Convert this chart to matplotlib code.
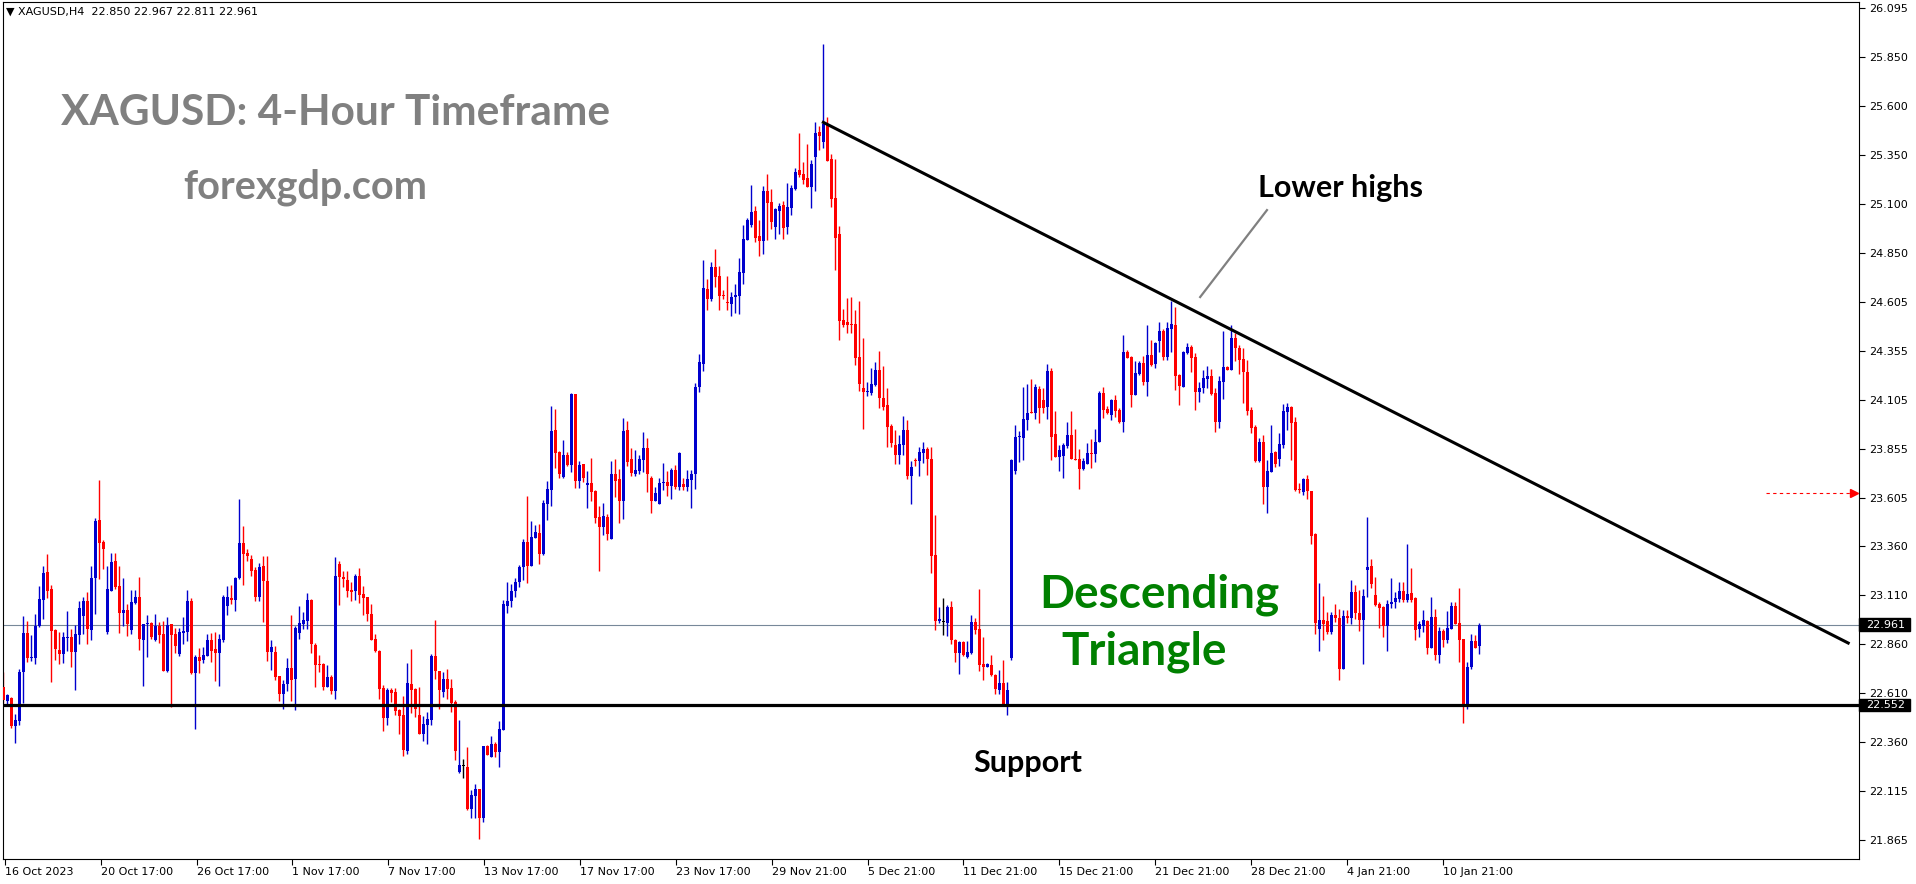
import matplotlib
matplotlib.use("Agg")
from matplotlib import pyplot as plt
from matplotlib import transforms
from matplotlib.patches import Rectangle

# XAGUSD H4 candles (16 Oct 2023 - 12 Jan 2024)
opens = [
    22.644, 22.573, 22.588, 22.444, 22.472, 22.719, 22.917, 22.790, 22.792, 22.955,
    23.087, 23.226, 23.141, 22.933, 22.831, 22.812, 22.894, 22.897, 22.822, 22.909,
    23.005, 23.080, 22.934, 23.197, 23.492, 23.382, 22.924, 23.133, 23.283, 23.158,
    23.019, 23.034, 22.934, 23.070, 23.100, 22.882, 22.965, 22.968, 22.882, 22.956,
    22.914, 22.726, 22.963, 22.914, 22.811, 22.919, 22.922, 23.080, 22.714, 22.795,
    22.780, 22.802, 22.882, 22.836, 22.817, 22.882, 23.056, 23.095, 23.087, 23.199,
    23.375, 23.324, 23.294, 23.238, 23.102, 23.258, 23.182, 22.822, 22.821, 22.699,
    22.607, 22.658, 22.739, 22.683, 22.919, 22.963, 22.978, 23.085, 22.856, 22.760,
    22.760, 22.643, 22.694, 22.622, 23.268, 23.202, 23.187, 23.136, 23.131, 23.207,
    23.116, 23.100, 23.014, 22.887, 22.826, 22.638, 22.485, 22.628, 22.617, 22.526,
    22.500, 22.317, 22.658, 22.633, 22.500, 22.404, 22.450, 22.475, 22.800, 22.724,
    22.617, 22.683, 22.638, 22.567, 22.211, 22.244, 22.236, 22.022, 22.089, 22.124,
    21.977, 22.343, 22.287, 22.353, 22.312, 22.424, 23.055, 23.080, 23.130, 23.175,
    23.255, 23.380, 23.258, 23.401, 23.426, 23.319, 23.573, 23.645, 23.950, 23.838,
    23.711, 23.823, 23.772, 24.133, 23.690, 23.777, 23.670, 23.680, 23.640, 23.507,
    23.456, 23.507, 23.395, 23.726, 23.701, 23.589, 23.950, 23.802, 23.726, 23.741,
    23.797, 23.858, 23.706, 23.589, 23.573, 23.680, 23.685, 23.665, 23.746, 23.660,
    23.675, 23.660, 23.695, 23.726, 24.168, 24.285, 24.667, 24.616, 24.779, 24.733,
    24.636, 24.601, 24.590, 24.626, 24.631, 24.747, 24.915, 24.991, 25.063, 24.936,
    24.910, 25.164, 25.108, 24.981, 25.063, 25.093, 24.981, 25.078, 25.175, 25.271,
    25.251, 25.230, 25.185, 25.337, 25.464, 25.413, 25.505, 25.327, 25.129, 24.946,
    24.508, 24.498, 24.488, 24.488, 24.320, 24.163, 24.144, 24.137, 24.178, 24.254,
    24.112, 24.076, 23.969, 23.873, 23.822, 23.873, 23.949, 23.715, 23.796, 23.791,
    23.832, 23.852, 23.801, 23.313, 22.978, 22.976, 22.968, 23.049, 22.881, 22.815,
    22.871, 22.795, 22.815, 22.973, 22.937, 22.759, 22.744, 22.754, 22.703, 22.627,
    22.662, 22.551, 22.790, 23.741, 23.914, 23.909, 24.000, 24.041, 24.036, 24.158,
    24.102, 24.066, 24.249, 23.929, 23.812, 23.817, 23.868, 23.924, 23.802, 23.802,
    23.751, 23.776, 23.832, 23.827, 23.888, 24.137, 24.056, 24.026, 24.102, 24.051,
    23.990, 24.346, 24.320, 24.127, 24.234, 24.290, 24.193, 24.331, 24.285, 24.402,
    24.453, 24.320, 24.463, 24.483, 24.229, 24.168, 24.341, 24.371, 24.320, 24.142,
    24.163, 24.209, 24.224, 24.137, 23.990, 24.193, 24.268, 24.254, 24.417, 24.366,
    24.310, 24.244, 24.051, 23.964, 23.792, 23.888, 23.659, 23.736, 23.837, 23.802,
    23.873, 24.041, 24.066, 23.990, 23.649, 23.634, 23.700, 23.639, 23.420, 22.937,
    22.983, 22.978, 22.922, 23.009, 22.993, 22.734, 23.004, 22.993, 23.125, 23.019,
    22.983, 23.237, 23.258, 23.110, 23.064, 23.049, 22.953, 23.064, 23.075, 23.090,
    23.131, 23.085, 23.120, 23.095, 22.937, 22.953, 22.978, 22.841, 22.998, 22.805,
    22.927, 22.881, 22.937, 23.054, 22.968, 22.886, 22.546, 22.744, 22.876, 22.850,
]
highs = [
    22.721, 22.607, 22.594, 22.505, 22.734, 23.004, 22.977, 22.907, 23.017, 23.156,
    23.261, 23.319, 23.161, 22.938, 22.922, 22.921, 23.029, 22.938, 22.960, 23.083,
    23.102, 23.126, 23.258, 23.502, 23.695, 23.390, 23.258, 23.324, 23.324, 23.258,
    23.197, 23.065, 23.138, 23.138, 23.202, 22.966, 23.009, 22.972, 23.014, 22.972,
    22.977, 22.999, 22.966, 22.941, 22.941, 22.999, 23.136, 23.095, 22.805, 22.843,
    22.846, 22.912, 22.917, 22.921, 22.912, 23.112, 23.156, 23.161, 23.204, 23.599,
    23.461, 23.346, 23.316, 23.253, 23.272, 23.309, 23.309, 22.882, 22.851, 22.699,
    22.678, 22.790, 23.009, 22.956, 23.055, 23.024, 23.121, 23.090, 22.867, 22.806,
    22.763, 22.755, 22.704, 23.304, 23.284, 23.233, 23.233, 23.177, 23.217, 23.248,
    23.156, 23.100, 23.065, 22.912, 22.831, 22.653, 22.638, 22.638, 22.638, 22.531,
    22.597, 22.765, 22.836, 22.638, 22.643, 22.495, 22.516, 22.811, 22.984, 22.724,
    22.719, 22.734, 22.683, 22.577, 22.475, 22.277, 22.338, 22.119, 22.150, 22.124,
    22.343, 22.348, 22.394, 22.363, 22.470, 23.085, 23.177, 23.165, 23.200, 23.262,
    23.397, 23.614, 23.487, 23.467, 23.472, 23.594, 23.690, 24.072, 24.057, 23.843,
    23.899, 23.838, 24.138, 24.133, 23.792, 23.777, 23.741, 23.807, 23.645, 23.563,
    23.578, 23.523, 23.792, 23.802, 23.751, 24.011, 23.995, 23.858, 23.848, 23.823,
    23.940, 23.909, 23.716, 23.660, 23.706, 23.782, 23.741, 23.756, 23.772, 23.838,
    23.706, 23.746, 23.746, 24.189, 24.336, 24.814, 24.718, 24.804, 24.869, 24.784,
    24.662, 24.733, 24.651, 24.692, 24.824, 24.991, 25.027, 25.195, 25.088, 25.017,
    25.190, 25.251, 25.174, 25.078, 25.103, 25.113, 25.205, 25.195, 25.281, 25.459,
    25.312, 25.403, 25.322, 25.515, 25.495, 25.912, 25.541, 25.352, 25.327, 24.986,
    24.564, 24.620, 24.625, 24.559, 24.605, 24.417, 24.193, 24.264, 24.295, 24.351,
    24.274, 24.163, 23.979, 23.949, 23.924, 24.020, 24.000, 23.791, 23.807, 23.863,
    23.888, 23.863, 23.863, 23.517, 23.049, 23.095, 23.059, 23.079, 22.886, 22.876,
    22.876, 22.876, 23.008, 22.993, 23.140, 22.896, 22.764, 22.805, 22.708, 22.729,
    22.779, 22.668, 23.801, 23.975, 23.944, 24.168, 24.183, 24.209, 24.183, 24.173,
    24.163, 24.285, 24.265, 24.046, 23.873, 23.883, 23.990, 24.046, 23.954, 23.853,
    23.807, 23.883, 23.904, 23.954, 24.148, 24.168, 24.071, 24.107, 24.127, 24.061,
    24.432, 24.356, 24.326, 24.300, 24.300, 24.326, 24.483, 24.407, 24.397, 24.498,
    24.463, 24.498, 24.605, 24.575, 24.234, 24.351, 24.392, 24.381, 24.341, 24.193,
    24.254, 24.275, 24.259, 24.163, 24.224, 24.453, 24.275, 24.483, 24.442, 24.381,
    24.366, 24.305, 24.066, 23.975, 23.909, 23.924, 23.797, 23.975, 23.842, 23.934,
    24.081, 24.087, 24.071, 24.015, 23.680, 23.705, 23.720, 23.639, 23.425, 23.171,
    23.105, 23.024, 23.024, 23.064, 23.039, 23.034, 23.034, 23.187, 23.161, 23.136,
    23.141, 23.507, 23.293, 23.202, 23.075, 23.054, 23.085, 23.197, 23.125, 23.176,
    23.176, 23.370, 23.248, 23.100, 22.978, 23.034, 22.983, 23.100, 23.039, 22.948,
    22.937, 23.029, 23.075, 23.075, 23.146, 22.886, 22.770, 22.912, 22.907, 22.967,
]
lows = [
    22.563, 22.551, 22.436, 22.360, 22.450, 22.563, 22.772, 22.775, 22.758, 22.950,
    22.990, 23.097, 22.670, 22.780, 22.761, 22.765, 22.826, 22.746, 22.629, 22.860,
    22.912, 22.863, 22.883, 23.016, 23.194, 23.244, 22.911, 23.133, 23.141, 22.917,
    22.955, 22.904, 22.914, 23.065, 22.831, 22.650, 22.797, 22.890, 22.877, 22.866,
    22.726, 22.719, 22.543, 22.817, 22.802, 22.860, 22.877, 22.711, 22.431, 22.716,
    22.763, 22.800, 22.772, 22.675, 22.648, 22.873, 23.009, 23.065, 23.031, 23.195,
    23.161, 23.285, 23.207, 23.083, 23.083, 22.975, 22.777, 22.729, 22.678, 22.572,
    22.531, 22.624, 22.572, 22.526, 22.890, 22.938, 22.938, 22.816, 22.643, 22.719,
    22.628, 22.643, 22.607, 22.582, 23.060, 23.153, 23.100, 23.080, 23.085, 23.070,
    23.009, 22.978, 22.882, 22.821, 22.582, 22.419, 22.450, 22.567, 22.500, 22.404,
    22.292, 22.302, 22.511, 22.490, 22.404, 22.368, 22.353, 22.450, 22.683, 22.531,
    22.592, 22.582, 22.516, 22.272, 22.206, 22.180, 22.017, 21.977, 21.977, 21.870,
    21.956, 22.297, 22.287, 22.287, 22.236, 22.424, 23.019, 23.050, 23.100, 23.150,
    23.187, 23.170, 23.258, 23.401, 23.268, 23.314, 23.492, 23.563, 23.756, 23.706,
    23.706, 23.767, 23.736, 23.655, 23.655, 23.685, 23.553, 23.589, 23.477, 23.233,
    23.416, 23.390, 23.395, 23.609, 23.477, 23.497, 23.767, 23.716, 23.716, 23.726,
    23.736, 23.634, 23.528, 23.589, 23.573, 23.645, 23.614, 23.599, 23.650, 23.645,
    23.645, 23.640, 23.553, 23.650, 24.143, 24.250, 24.560, 24.606, 24.677, 24.560,
    24.616, 24.560, 24.529, 24.545, 24.540, 24.691, 24.915, 24.981, 24.905, 24.834,
    24.844, 24.915, 24.971, 24.920, 24.946, 24.920, 24.946, 25.042, 25.169, 25.236,
    25.200, 25.185, 25.078, 25.164, 25.373, 25.383, 25.317, 25.083, 24.763, 24.407,
    24.474, 24.444, 24.444, 24.280, 24.147, 23.954, 24.122, 24.127, 24.173, 24.061,
    24.051, 23.863, 23.863, 23.776, 23.776, 23.822, 23.700, 23.573, 23.766, 23.715,
    23.781, 23.720, 23.222, 22.932, 22.968, 22.907, 22.901, 22.861, 22.769, 22.708,
    22.800, 22.790, 22.810, 22.912, 22.724, 22.678, 22.744, 22.698, 22.607, 22.607,
    22.551, 22.500, 22.779, 23.725, 23.787, 23.797, 23.949, 24.036, 24.005, 23.985,
    24.036, 24.005, 23.797, 23.812, 23.741, 23.705, 23.858, 23.802, 23.797, 23.649,
    23.746, 23.776, 23.756, 23.787, 23.888, 24.010, 24.031, 24.000, 24.015, 23.985,
    23.939, 24.315, 24.066, 24.127, 24.229, 24.178, 24.122, 24.275, 24.265, 24.346,
    24.305, 24.305, 24.346, 24.153, 24.076, 24.168, 24.336, 24.244, 24.051, 24.092,
    24.137, 24.163, 24.127, 23.939, 23.959, 24.107, 24.254, 24.254, 24.300, 24.234,
    24.088, 24.026, 23.934, 23.787, 23.787, 23.573, 23.527, 23.736, 23.761, 23.766,
    23.858, 23.949, 23.797, 23.639, 23.629, 23.619, 23.598, 23.370, 22.912, 22.825,
    22.881, 22.912, 22.912, 22.973, 22.678, 22.734, 22.968, 22.963, 22.988, 22.927,
    22.759, 23.100, 23.146, 23.054, 22.942, 22.897, 22.825, 23.044, 23.044, 23.075,
    23.075, 23.075, 23.075, 22.881, 22.897, 22.922, 22.810, 22.841, 22.780, 22.764,
    22.846, 22.866, 22.937, 22.963, 22.770, 22.459, 22.531, 22.734, 22.841, 22.811,
]
closes = [
    22.577, 22.602, 22.444, 22.475, 22.719, 22.917, 22.792, 22.795, 22.955, 23.090,
    23.222, 23.133, 22.929, 22.838, 22.812, 22.897, 22.897, 22.822, 22.912, 23.044,
    23.080, 22.938, 23.197, 23.487, 23.377, 23.346, 23.141, 23.278, 23.151, 23.019,
    23.034, 22.965, 23.075, 23.100, 22.888, 22.963, 22.968, 22.897, 22.955, 22.909,
    22.726, 22.958, 22.909, 22.853, 22.922, 22.927, 23.080, 22.714, 22.795, 22.777,
    22.805, 22.882, 22.826, 22.817, 22.887, 23.100, 23.100, 23.087, 23.199, 23.375,
    23.321, 23.309, 23.233, 23.102, 23.256, 23.182, 22.822, 22.846, 22.695, 22.607,
    22.658, 22.739, 22.678, 22.943, 22.968, 22.984, 23.085, 22.863, 22.755, 22.756,
    22.643, 22.694, 22.622, 23.207, 23.202, 23.194, 23.131, 23.126, 23.207, 23.111,
    23.095, 23.014, 22.882, 22.826, 22.633, 22.485, 22.628, 22.612, 22.521, 22.495,
    22.322, 22.663, 22.628, 22.531, 22.404, 22.455, 22.480, 22.800, 22.724, 22.628,
    22.683, 22.633, 22.561, 22.317, 22.246, 22.244, 22.022, 22.094, 22.124, 21.977,
    22.343, 22.297, 22.353, 22.312, 22.429, 23.065, 23.080, 23.130, 23.175, 23.255,
    23.380, 23.258, 23.406, 23.431, 23.319, 23.578, 23.650, 23.945, 23.833, 23.726,
    23.823, 23.772, 24.133, 23.690, 23.772, 23.706, 23.680, 23.634, 23.502, 23.456,
    23.512, 23.421, 23.726, 23.690, 23.589, 23.945, 23.787, 23.731, 23.746, 23.802,
    23.858, 23.726, 23.589, 23.629, 23.680, 23.685, 23.665, 23.746, 23.660, 23.833,
    23.660, 23.701, 23.726, 24.168, 24.295, 24.672, 24.616, 24.779, 24.728, 24.631,
    24.631, 24.597, 24.626, 24.636, 24.753, 24.920, 25.017, 25.058, 24.925, 24.910,
    25.164, 25.103, 25.007, 25.073, 25.088, 24.976, 25.083, 25.180, 25.261, 25.246,
    25.220, 25.185, 25.302, 25.459, 25.444, 25.505, 25.317, 25.124, 24.925, 24.503,
    24.483, 24.483, 24.485, 24.315, 24.183, 24.142, 24.149, 24.183, 24.254, 24.112,
    24.066, 23.964, 23.883, 23.822, 23.878, 23.949, 23.715, 23.761, 23.791, 23.837,
    23.852, 23.801, 23.308, 22.978, 22.988, 22.976, 23.049, 22.881, 22.815, 22.871,
    22.805, 22.820, 22.973, 22.932, 22.754, 22.744, 22.759, 22.703, 22.632, 22.662,
    22.556, 22.627, 23.796, 23.914, 23.919, 24.005, 24.036, 24.036, 24.168, 24.061,
    24.061, 24.249, 23.914, 23.812, 23.848, 23.873, 23.924, 23.802, 23.797, 23.751,
    23.792, 23.832, 23.827, 23.888, 24.137, 24.051, 24.036, 24.102, 24.046, 23.990,
    24.346, 24.315, 24.127, 24.239, 24.290, 24.193, 24.331, 24.280, 24.392, 24.453,
    24.320, 24.468, 24.488, 24.224, 24.173, 24.346, 24.371, 24.315, 24.142, 24.163,
    24.214, 24.224, 24.132, 23.990, 24.198, 24.268, 24.256, 24.417, 24.366, 24.305,
    24.244, 24.046, 23.959, 23.792, 23.888, 23.659, 23.741, 23.832, 23.776, 23.878,
    24.046, 24.066, 23.985, 23.644, 23.644, 23.700, 23.639, 23.410, 22.968, 22.983,
    22.963, 22.922, 23.009, 22.993, 22.734, 23.004, 22.993, 23.125, 23.019, 22.983,
    23.105, 23.253, 23.166, 23.059, 23.044, 22.953, 23.064, 23.075, 23.095, 23.131,
    23.085, 23.115, 23.085, 22.932, 22.963, 22.983, 22.841, 22.998, 22.805, 22.927,
    22.881, 22.942, 23.054, 22.963, 22.881, 22.546, 22.744, 22.876, 22.841, 22.961,
]

# time axis labels (one every 24 bars) and price axis labels
date_labels = ["16 Oct 2023", "20 Oct 17:00", "26 Oct 17:00", "1 Nov 17:00",
               "7 Nov 17:00", "13 Nov 17:00", "17 Nov 17:00", "23 Nov 17:00",
               "29 Nov 21:00", "5 Dec 21:00", "11 Dec 21:00", "15 Dec 21:00",
               "21 Dec 21:00", "28 Dec 21:00", "4 Jan 21:00", "10 Jan 21:00"]
price_labels = ["26.095", "25.850", "25.600", "25.350", "25.100", "24.850",
                "24.605", "24.355", "24.105", "23.855", "23.605", "23.360",
                "23.110", "22.860", "22.610", "22.360", "22.115", "21.865"]

support = 22.552
bid = 22.961
alert = 23.632
trend_x = [205, 461.2]
trend_y = [25.514, 22.867]

bull = "#0000cd"
bear = "#ff0000"

fig = plt.figure(figsize=(19.16, 8.84), dpi=100)
ax = fig.add_axes([3 / 1916, 25 / 884, 1856 / 1916, 857 / 884])
ax.set_xlim(-0.075, 463.9)
ax.set_ylim(21.769, 26.126)

n = len(closes)
xs = list(range(n))
cols = []
for o, c in zip(opens, closes):
    if c > o:
        cols.append(bull)
    elif c < o:
        cols.append(bear)
    else:
        cols.append("black")
bottoms = [min(o, c) for o, c in zip(opens, closes)]
heights = [max(abs(c - o), 0.005) for o, c in zip(opens, closes)]
ax.vlines(xs, lows, highs, colors=cols, lw=1.0, zorder=2)
ax.bar(xs, heights, 0.76, bottoms, color=cols, lw=0, zorder=3)

# lines drawn on the chart
ax.axhline(bid, color="#778899", lw=0.8, zorder=1)
ax.axhline(support, color="black", lw=2.3, zorder=4)
ax.plot(trend_x, trend_y, color="black", lw=2.2, zorder=4)
ax.plot([440.7, 462.0], [alert, alert], color="red", lw=0.8, ls=(0, (3, 3)), zorder=4)
ax.plot([462.6], [alert], marker=">", color="red", ms=6, zorder=4, clip_on=False)

# right price scale
top_p, bot_p = 26.095, 21.865
step = (top_p - bot_p) / (len(price_labels) - 1)
ax.yaxis.tick_right()
ax.set_yticks([top_p - k * step for k in range(len(price_labels))])
ax.set_yticklabels(price_labels)
ax.tick_params(axis="y", direction="out", length=4, width=0.8, pad=3, labelsize=8)

# bottom time scale
ax.set_xticks([0.4 + 23.96 * k for k in range(len(date_labels))])
ax.set_xticklabels(date_labels)
for lbl in ax.get_xticklabels():
    lbl.set_horizontalalignment("left")
ax.tick_params(axis="x", direction="out", length=4, width=0.8, pad=2, labelsize=8)
for sp in ax.spines.values():
    sp.set_linewidth(0.8)

# black price boxes on the scale
trans = transforms.blended_transform_factory(ax.transAxes, ax.transData)
for val in [bid, support]:
    ax.add_patch(Rectangle((1.0, val - 0.032), 51 / 1856, 0.064, transform=trans,
                           color="black", clip_on=False, zorder=6))
    ax.text(1.0 + 7 / 1856, val, f"{val:.3f}", transform=trans, color="white",
            fontsize=8, va="center", ha="left", zorder=7)

# annotations
ax.plot([315.9, 299.2], [25.068, 24.626], color="#808080", lw=1.6)
ax.text(334.4, 25.134, "Lower highs", ha="center", va="baseline", fontsize=22,
        fontweight="bold", family="Lato", color="black")
ax.text(288.9, 23.050, "Descending", ha="center", va="baseline", fontsize=33,
        fontweight="bold", family="Lato", color="#008000")
ax.text(285.3, 22.760, "Triangle", ha="center", va="baseline", fontsize=33,
        fontweight="bold", family="Lato", color="#008000")
ax.text(256.2, 22.211, "Support", ha="center", va="baseline", fontsize=22,
        fontweight="bold", family="Lato", color="black")

fig.text(61 / 1916, 1 - 125 / 884, "XAGUSD: 4-Hour Timeframe", ha="left", va="baseline",
         fontsize=30.5, fontweight="bold", family="Lato", color="#808080")
fig.text(183 / 1916, 1 - 199 / 884, "forexgdp.com", ha="left", va="baseline",
         fontsize=28.5, fontweight="bold", family="Lato", color="#808080")
fig.text(6 / 1916, 1 - 12 / 884, "\u25bc XAGUSD,H4  22.850 22.967 22.811 22.961",
         ha="left", va="center", fontsize=8, color="black")

fig.savefig("out.png", dpi=100)
